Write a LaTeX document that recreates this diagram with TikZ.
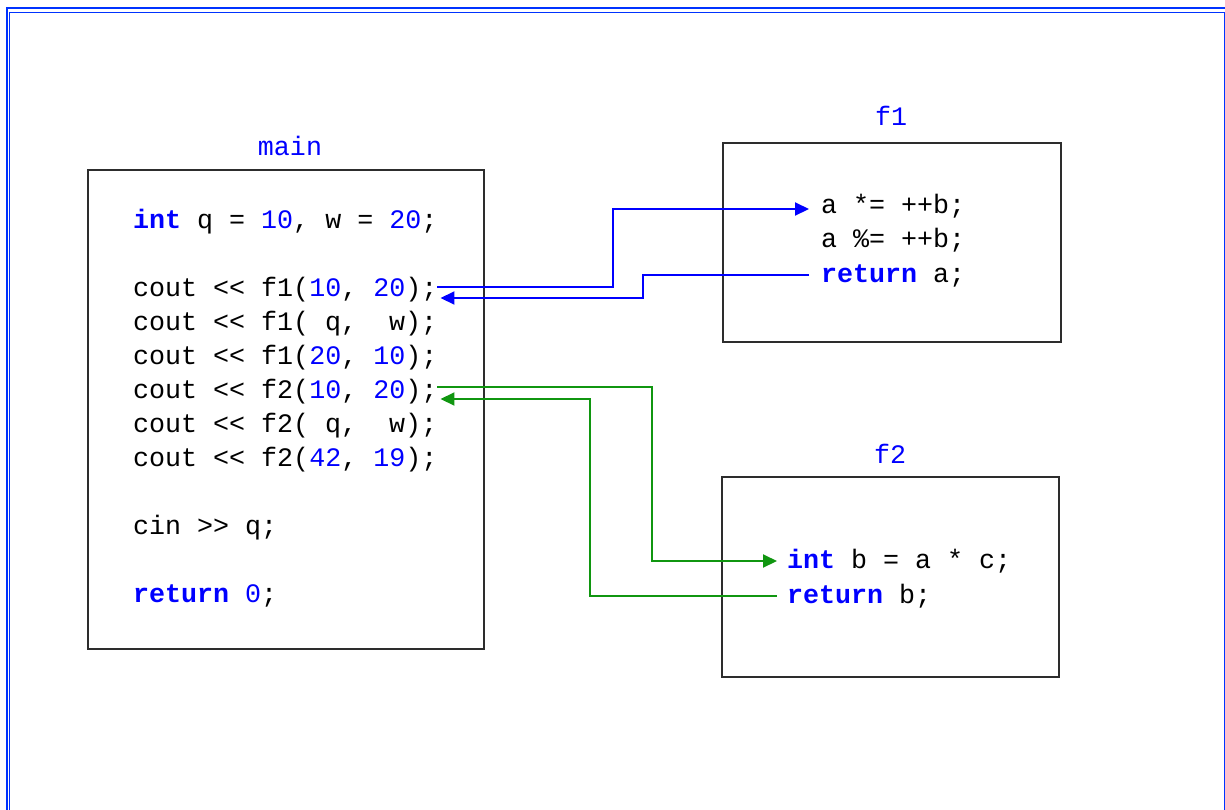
\documentclass[tikz,border=0pt]{standalone}
\usepackage{fontspec}
\setmonofont{Liberation Mono}
\usetikzlibrary{arrows.meta,calc}
\definecolor{framec}{RGB}{0,51,255}
\definecolor{kwc}{RGB}{0,0,255}
\definecolor{grc}{RGB}{16,150,16}
\definecolor{boxc}{RGB}{45,45,45}
\newcommand{\kwd}[1]{\textcolor{kwc}{\bfseries #1}}
\newcommand{\num}[1]{\textcolor{kwc}{#1}}
\tikzset{
  code/.style={anchor=base west, inner sep=0pt, text=black,
    font=\ttfamily\fontsize{26.67}{30}\selectfont},
  title/.style={anchor=base, inner sep=0pt, text=kwc,
    font=\ttfamily\fontsize{26.67}{30}\selectfont},
  fnbox/.style={draw=boxc, line width=2pt, inner sep=0pt},
  barrow/.style={draw=kwc, line width=2pt, -{Triangle[length=14pt,width=13pt]}},
  garrow/.style={draw=grc, line width=2pt, -{Triangle[length=14pt,width=13pt]}},
}
\begin{document}
\begin{tikzpicture}[x=1pt,y=-1pt]
\useasboundingbox (0,0) rectangle (1225,809);
\clip (0,0) rectangle (1225,809);
\fill[white] (0,0) rectangle (1225,809);
% frame
\draw[framec, line width=2.6pt] (6.8,830) -- (6.8,8) -- (1240,8);
\draw[framec, line width=1.2pt] (9.6,830) -- (9.6,12.5) -- (1224.2,12.5) -- (1224.2,830);

% boxes
\node[fnbox, minimum width=396pt, minimum height=479pt] (mainbox) at (286,409.5) {};
\node[fnbox, minimum width=338pt, minimum height=199pt] (f1box) at (892,242.5) {};
\node[fnbox, minimum width=337pt, minimum height=200pt] (f2box) at (890.5,577) {};

% titles
\node[title] (tmain) at (290,155) {main};
\node[title] (tf1) at (891,125) {f1};
\node[title] (tf2) at (890,463) {f2};

% main code
\node[code] (m0) at (133,228) {\kwd{int} q = \num{10}, w = \num{20};};
\node[code] (m1) at (133,296) {cout <{}< f1(\num{10}, \num{20});};
\node[code] (m2) at (133,330) {cout <{}< f1(~q,~~w);};
\node[code] (m3) at (133,364) {cout <{}< f1(\num{20}, \num{10});};
\node[code] (m4) at (133,398) {cout <{}< f2(\num{10}, \num{20});};
\node[code] (m5) at (133,432) {cout <{}< f2(~q,~~w);};
\node[code] (m6) at (133,466) {cout <{}< f2(\num{42}, \num{19});};
\node[code] (m7) at (133,534) {cin >{}> q;};
\node[code] (m8) at (133,602) {\kwd{return} \num{0};};

% f1 code
\node[code] (f1a) at (821,213) {a *= ++b;};
\node[code] (f1b) at (821,247) {a \%= ++b;};
\node[code] (f1c) at (821,282) {\kwd{return} a;};

% f2 code
\node[code] (f2a) at (787,568) {\kwd{int} b = a * c;};
\node[code] (f2b) at (787,603) {\kwd{return} b;};

% blue connectors
\draw[barrow] ([yshift=9pt]m1.base east) -- ++(176,0) |- ([xshift=-12pt,yshift=4pt]f1a.base west);
\draw[barrow] ([xshift=-12pt,yshift=7pt]f1c.base west) -- ++(-166,0) |- ([xshift=3pt,yshift=-2pt]m1.base east);

% green connectors
\draw[garrow] ([yshift=11pt]m4.base east) -- ++(215,0) |- ([xshift=-10pt,yshift=7pt]f2a.base west);
\draw[garrow] ([xshift=-10pt,yshift=7pt]f2b.base west) -- ++(-187,0) |- ([xshift=3pt,yshift=-1pt]m4.base east);
\end{tikzpicture}
\end{document}
